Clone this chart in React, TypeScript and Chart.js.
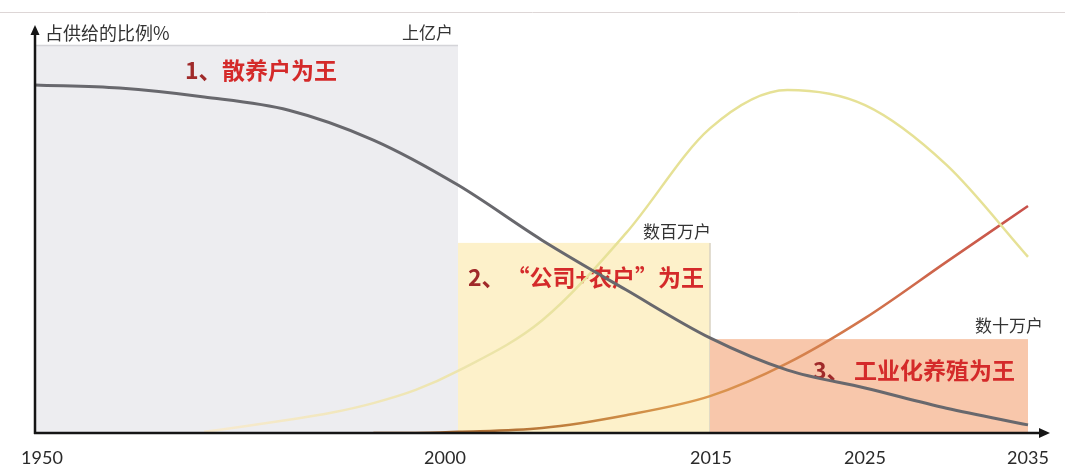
import React, { useEffect, useRef } from 'react';
import { Chart, registerables } from 'chart.js';

Chart.register(...registerables);

// ---------------- data ----------------
const backyardYears = [1950, 1960, 1970, 1980, 1990, 2000, 2005, 2010, 2015, 2020, 2025, 2030, 2035];
const backyardShare = [89.7, 88.9, 86.6, 83.2, 75.5, 63.9, 49.7, 36.9, 24.5, 16.2, 11.6, 6.4, 2.1];

const contractYears = [1970, 1975, 1980, 1985, 1990, 1995, 2000, 2005, 2010, 2015, 2020, 2025, 2030, 2035];
const contractShare = [0.3, 1.8, 3.4, 5.2, 7.7, 11.1, 16.0, 29.0, 51.5, 78.5, 88.4, 84.5, 69.1, 45.4];

const industrialYears = [1990, 1995, 2000, 2005, 2010, 2015, 2020, 2025, 2030, 2035];
const industrialShare = [0, 0, 0.3, 1.3, 4.6, 9.5, 18.0, 29.6, 44.1, 58.5];

const tickYears = [1950, 2000, 2015, 2025, 2035];
const tickLabels = ['1950', '2000', '2015', '2025', '2035'];

const periodStart = [1950, 2000, 2015];
const periodEnd = [2000, 2015, 2035];
const periodHeight = [100, 49, 24.2];
const periodHouseholds = ['上亿户', '数百万户', '数十万户'];
const periodNumbers = ['1、', '2、', '3、'];
const periodTitles = ['散养户为王', '“公司+农户”为王', '工业化养殖为王'];
const yAxisTitle = '占供给的比例%';

// ---------------- layout / style ----------------
// non-uniform timeline: axis units for each tick year
const TICK_POS = [0, 423, 675, 830, 993];
const X_MAX = 1015;
const TICK_LABEL_DX = [7, -13, 1, 0, 0];
const BOX_COLORS = ['#ededf0', '#fdf1ca', '#f8c7ab'];
const HH_DX = [-5, 1, 15];
const HH_DY = [-12, -11, -14];
const NUM_X = [185, 468, 813];
const TITLE_RIGHT = [337, 704, 1015];
const TITLE_DY = [25, 34, 31];
const CJK = '"Noto Sans CJK SC", "Noto Sans", sans-serif';

function yearToPos(year: number): number {
  for (let i = 0; i < tickYears.length - 1; i++) {
    const a = tickYears[i], b = tickYears[i + 1];
    if (year <= b || i === tickYears.length - 2) {
      return TICK_POS[i] + ((year - a) / (b - a)) * (TICK_POS[i + 1] - TICK_POS[i]);
    }
  }
  return 0;
}

const toPoints = (ys: number[], vs: number[]) => ys.map((y, i) => ({ x: yearToPos(y), y: vs[i] }));

const backdropPlugin = {
  id: 'backdrop',
  beforeDatasetsDraw(chart: any) {
    const { ctx, scales } = chart;
    const xs = scales.x, ysc = scales.y;
    ctx.save();
    // faint page rule at top
    ctx.strokeStyle = '#ddd6d6';
    ctx.lineWidth = 1;
    ctx.beginPath();
    ctx.moveTo(0, 12.5);
    ctx.lineTo(1065, 12.5);
    ctx.stroke();

    for (let i = 0; i < periodStart.length; i++) {
      const x0 = xs.getPixelForValue(yearToPos(periodStart[i]));
      const x1 = xs.getPixelForValue(yearToPos(periodEnd[i]));
      const yt = ysc.getPixelForValue(periodHeight[i]);
      const yb = ysc.getPixelForValue(0);
      ctx.fillStyle = BOX_COLORS[i];
      ctx.fillRect(x0, yt, x1 - x0, yb - yt);
      if (i === 0) {
        ctx.strokeStyle = '#d4d4d8';
        ctx.lineWidth = 1.5;
        ctx.beginPath();
        ctx.moveTo(x0, yt + 0.5);
        ctx.lineTo(x1, yt + 0.5);
        ctx.stroke();
      }
      if (i === 1) {
        ctx.strokeStyle = '#d9d2c2';
        ctx.lineWidth = 1.5;
        ctx.beginPath();
        ctx.moveTo(x1, yt);
        ctx.lineTo(x1, yb);
        ctx.stroke();
      }
      // household counts
      ctx.font = `17px ${CJK}`;
      ctx.fillStyle = '#333333';
      ctx.textAlign = 'right';
      ctx.textBaseline = 'middle';
      ctx.fillText(periodHouseholds[i], x1 + HH_DX[i], yt + HH_DY[i]);
      // titles
      const ty = yt + TITLE_DY[i];
      ctx.font = `bold 23px ${CJK}`;
      ctx.textAlign = 'left';
      ctx.fillStyle = '#a02a2a';
      ctx.fillText(periodNumbers[i], NUM_X[i], ty);
      ctx.textAlign = 'right';
      ctx.fillStyle = '#d42a2a';
      ctx.fillText(periodTitles[i], TITLE_RIGHT[i], ty);
    }
    ctx.restore();
  },
  afterDatasetsDraw(chart: any) {
    const { ctx, scales, chartArea } = chart;
    const xs = scales.x;
    const left = chartArea.left;
    const bottom = chartArea.bottom;
    ctx.save();
    ctx.strokeStyle = '#151515';
    ctx.fillStyle = '#151515';
    ctx.lineWidth = 2.5;
    // y axis
    ctx.beginPath();
    ctx.moveTo(left, bottom + 1);
    ctx.lineTo(left, 33);
    ctx.stroke();
    ctx.beginPath();
    ctx.moveTo(left, 25);
    ctx.lineTo(left - 4.5, 35);
    ctx.lineTo(left + 4.5, 35);
    ctx.closePath();
    ctx.fill();
    // x axis
    ctx.beginPath();
    ctx.moveTo(left - 1, bottom);
    ctx.lineTo(chartArea.right - 8, bottom);
    ctx.stroke();
    ctx.beginPath();
    ctx.moveTo(chartArea.right, bottom);
    ctx.lineTo(chartArea.right - 11, bottom - 5);
    ctx.lineTo(chartArea.right - 11, bottom + 5);
    ctx.closePath();
    ctx.fill();

    // y axis title
    ctx.font = `18px ${CJK}`;
    ctx.fillStyle = '#333333';
    ctx.textAlign = 'left';
    ctx.textBaseline = 'middle';
    ctx.fillText(yAxisTitle, left + 10, 33);

    // tick labels
    ctx.font = '18px Lato, "Open Sans", sans-serif';
    ctx.fillStyle = '#2a2a2a';
    ctx.textAlign = 'center';
    for (let i = 0; i < tickYears.length; i++) {
      const px = xs.getPixelForValue(yearToPos(tickYears[i]));
      ctx.fillText(tickLabels[i], px + TICK_LABEL_DX[i], 458);
    }
    ctx.restore();
  },
};

export default function App() {
  const canvasRef = useRef<HTMLCanvasElement | null>(null);

  useEffect(() => {
    if (!canvasRef.current) return;
    const chart = new Chart(canvasRef.current, {
      type: 'line',
      data: {
        datasets: [
          {
            label: '散养户',
            data: toPoints(backyardYears, backyardShare),
            borderColor: '#68686d',
            borderWidth: 3,
            cubicInterpolationMode: 'monotone',
            pointRadius: 0,
            fill: false,
          },
          {
            label: '公司+农户',
            data: toPoints(contractYears, contractShare),
            borderColor: (c: any) => {
              const { chart: ch } = c;
              const area = ch.chartArea;
              if (!area) return '#e8e29a';
              const g = ch.ctx.createLinearGradient(ch.scales.x.getPixelForValue(yearToPos(1970)), 0, ch.scales.x.getPixelForValue(yearToPos(2010)), 0);
              g.addColorStop(0, '#f7ead0');
              g.addColorStop(1, '#e6e196');
              return g;
            },
            borderWidth: 2.5,
            cubicInterpolationMode: 'monotone',
            pointRadius: 0,
            fill: false,
          },
          {
            label: '工业化养殖',
            data: toPoints(industrialYears, industrialShare),
            borderColor: (c: any) => {
              const { chart: ch } = c;
              const area = ch.chartArea;
              if (!area) return '#d2783c';
              const g = ch.ctx.createLinearGradient(ch.scales.x.getPixelForValue(yearToPos(1995)), 0, ch.scales.x.getPixelForValue(yearToPos(2035)), 0);
              g.addColorStop(0, '#a0602a');
              g.addColorStop(0.45, '#dc9a4e');
              g.addColorStop(1, '#c8504a');
              return g;
            },
            borderWidth: 2.5,
            cubicInterpolationMode: 'monotone',
            pointRadius: 0,
            fill: false,
          },
        ],
      },
      options: {
        animation: false,
        responsive: true,
        maintainAspectRatio: false,
        layout: { padding: { left: 35, right: 15, top: 45, bottom: 34 } },
        scales: {
          x: { type: 'linear', min: 0, max: X_MAX, display: false },
          y: { min: 0, max: 100, display: false },
        },
        plugins: { legend: { display: false }, tooltip: { enabled: false } },
        elements: { point: { radius: 0 } },
      },
      plugins: [backdropPlugin],
    } as any);
    return () => chart.destroy();
  }, []);

  return (
    <div style={{ position: 'absolute', left: 0, top: 0, width: 1065, height: 467, background: '#ffffff' }}>
      <canvas ref={canvasRef} />
    </div>
  );
}
